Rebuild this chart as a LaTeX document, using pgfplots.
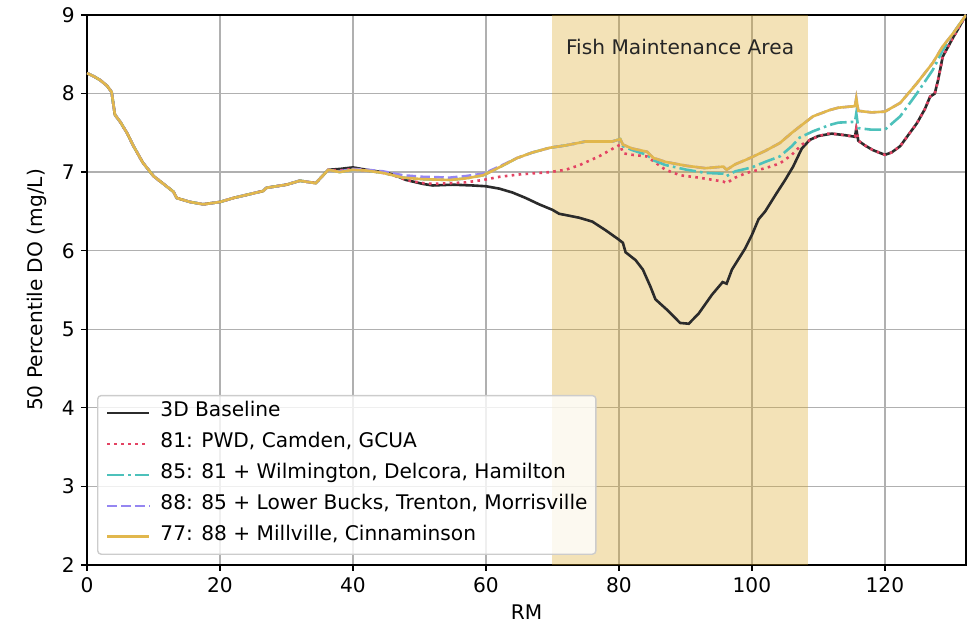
\documentclass[border=0pt]{standalone}
\usepackage{pgfplots}
\pgfplotsset{compat=1.18}
\usepackage{pgfplotstable}
\usepackage{fontspec}
\setmainfont{DejaVu Sans}

\definecolor{cBase}{HTML}{2B2B2B}
\definecolor{cRed}{HTML}{E34363}
\definecolor{cTeal}{HTML}{4DC1BB}
\definecolor{cPurple}{HTML}{9586F1}
\definecolor{cGold}{HTML}{E1B74D}
\definecolor{goldenrod}{RGB}{218,165,32}
\definecolor{gridgray}{HTML}{B0B0B0}
\definecolor{framegray}{HTML}{CCCCCC}

\newcommand{\lblfont}{\fontsize{11.6}{14}\selectfont}

% 3D Baseline
\pgfplotstableread{
x y
0 8.26
1 8.22
2 8.17
3 8.10
3.7 8.02
4.2 7.73
5 7.64
6 7.50
7 7.33
8.4 7.12
10 6.95
11.5 6.85
13 6.75
13.5 6.67
15.5 6.62
17.5 6.59
20 6.62
22 6.67
24.5 6.72
26.5 6.76
27 6.80
30 6.84
32 6.89
34.4 6.86
36.3 7.03
38 7.04
40 7.06
42 7.03
44.5 7.00
46 6.97
48 6.90
50.5 6.85
52 6.83
55 6.84
58 6.83
60 6.82
62 6.79
64 6.74
66 6.67
68 6.59
70 6.52
71 6.47
74 6.42
76 6.37
78 6.26
80 6.14
80.6 6.10
81 5.98
82.5 5.88
83.6 5.76
84.7 5.55
85.5 5.38
87.2 5.25
89.2 5.08
90.5 5.07
92 5.20
94 5.44
95.6 5.60
96.2 5.58
97 5.76
99 6.03
100 6.20
101 6.40
102 6.50
103.7 6.73
105 6.90
106.2 7.07
107.5 7.30
108.7 7.41
110 7.46
112 7.49
114 7.47
115.5 7.45
115.7 7.55
116 7.40
117 7.34
118.2 7.28
120 7.22
121 7.25
122.3 7.33
123.5 7.47
124.8 7.62
126 7.80
126.8 7.96
127.5 8.00
128 8.17
128.7 8.47
130.3 8.72
131 8.82
132.2 9.00
}\tblBase

% 81: PWD, Camden, GCUA
\pgfplotstableread{
x y
0 8.26
1 8.22
2 8.17
3 8.10
3.7 8.02
4.2 7.73
5 7.64
6 7.50
7 7.33
8.4 7.12
10 6.95
11.5 6.85
13 6.75
13.5 6.67
15.5 6.62
17.5 6.59
20 6.62
22 6.67
24.5 6.72
26.5 6.76
27 6.80
30 6.84
32 6.89
34.4 6.86
36.3 7.03
38 7.02
40 7.04
42 7.02
44.5 6.99
46 6.96
48 6.90
50.5 6.86
52 6.85
55 6.86
57 6.87
59.6 6.90
62 6.94
65 6.97
69.6 7.00
72 7.03
74.1 7.09
77 7.20
79.1 7.30
80.2 7.35
80.6 7.24
82 7.22
84.2 7.20
85.5 7.12
87 7.03
89.2 6.96
92 6.93
95.7 6.88
96.2 6.86
97.5 6.93
99.2 6.99
102 7.05
104.2 7.11
106 7.22
107.5 7.35
109.2 7.43
111.2 7.49
112 7.49
114 7.47
115.5 7.45
115.7 7.55
116 7.40
117 7.34
118.2 7.28
120 7.22
121 7.25
122.3 7.33
123.5 7.47
124.8 7.62
126 7.80
126.8 7.96
127.5 8.00
128 8.17
128.7 8.47
130.3 8.72
131 8.82
132.2 9.00
}\tblRed

% 85: 81 + Wilmington, Delcora, Hamilton
\pgfplotstableread{
x y
0 8.26
1 8.22
2 8.17
3 8.10
3.7 8.02
4.2 7.73
5 7.64
6 7.50
7 7.33
8.4 7.12
10 6.95
11.5 6.85
13 6.75
13.5 6.67
15.5 6.62
17.5 6.59
20 6.62
22 6.67
24.5 6.72
26.5 6.76
27 6.80
30 6.84
32 6.89
34.4 6.86
36.3 7.03
38 7.00
40 7.03
42 7.02
44.5 6.99
47.5 6.93
50.5 6.91
54.6 6.90
57 6.92
59.6 6.96
62 7.06
64.7 7.18
67 7.25
69.6 7.31
72 7.34
75 7.39
79 7.39
80.2 7.42
80.6 7.33
82 7.28
84.2 7.22
85.2 7.15
87 7.09
90.2 7.03
93 6.99
95.7 6.98
96.2 6.95
97.5 7.01
100 7.06
102 7.13
104.2 7.20
106 7.33
107.2 7.44
109.2 7.52
111.7 7.60
113 7.63
115.5 7.64
115.7 7.75
116 7.56
118 7.54
120 7.54
122.3 7.71
124.8 8.00
127.2 8.30
128.7 8.55
130.3 8.77
132.2 9.00
}\tblTeal

% 88: 85 + Lower Bucks, Trenton, Morrisville
\pgfplotstableread{
x y
0 8.26
1 8.22
2 8.17
3 8.10
3.7 8.02
4.2 7.73
5 7.64
6 7.50
7 7.33
8.4 7.12
10 6.95
11.5 6.85
13 6.75
13.5 6.67
15.5 6.62
17.5 6.59
20 6.62
22 6.67
24.5 6.72
26.5 6.76
27 6.80
30 6.84
32 6.89
34.4 6.86
36.3 7.03
38 7.01
40 7.04
42 7.03
44.5 7.01
47.5 6.96
50.5 6.94
54.6 6.93
57 6.95
59.6 6.98
62 7.07
64.7 7.18
67 7.25
69.6 7.31
72 7.34
75 7.39
79 7.39
80.2 7.42
80.6 7.35
82 7.30
84.2 7.26
85.2 7.18
87 7.13
90.2 7.08
93 7.05
95.7 7.07
96.2 7.03
97.5 7.10
99.2 7.16
102 7.27
104.2 7.37
106 7.50
107.2 7.58
109.2 7.71
111.7 7.79
113 7.82
115.5 7.84
115.7 7.94
116 7.78
118 7.76
120 7.77
122.3 7.88
124.8 8.13
127.2 8.39
128.7 8.60
130.3 8.77
132.2 9.00
}\tblPurple

% 77: 88 + Millville, Cinnaminson
\pgfplotstableread{
x y
0 8.26
1 8.22
2 8.17
3 8.10
3.7 8.02
4.2 7.73
5 7.64
6 7.50
7 7.33
8.4 7.12
10 6.95
11.5 6.85
13 6.75
13.5 6.67
15.5 6.62
17.5 6.59
20 6.62
22 6.67
24.5 6.72
26.5 6.76
27 6.80
30 6.84
32 6.89
34.4 6.86
36.3 7.03
38 7.00
40 7.03
42 7.02
44.5 6.99
47.5 6.93
50.5 6.91
54.6 6.90
57 6.92
59.6 6.96
62 7.06
64.7 7.18
67 7.25
69.6 7.31
72 7.34
75 7.39
79 7.39
80.2 7.42
80.6 7.35
82 7.30
84.2 7.26
85.2 7.18
87 7.13
90.2 7.08
93 7.05
95.7 7.07
96.2 7.03
97.5 7.10
99.2 7.16
102 7.27
104.2 7.37
106 7.50
107.2 7.58
109.2 7.71
111.7 7.79
113 7.82
115.5 7.84
115.7 7.94
116 7.78
118 7.76
120 7.77
122.3 7.88
124.8 8.13
127.2 8.39
128.7 8.60
130.3 8.77
132.2 9.00
}\tblGold

\begin{document}
\begin{tikzpicture}
\begin{axis}[
  scale only axis,
  width=505.9pt, height=316.5pt,
  xmin=0, xmax=132.2, ymin=2, ymax=9,
  xtick={0,20,...,120}, ytick={2,3,...,9},
  /pgf/number format/assume math mode=true,
  tick label style={font=\lblfont},
  label style={font=\lblfont},
  axis line style={line width=0.8pt, black},
  tick style={line width=0.8pt, black},
  tick align=outside, tick pos=left,
  major tick length=3.5pt,
  grid=major,
  major grid style={line width=0.8pt, gridgray},
  xlabel={RM},
  ylabel={50 Percentile DO (mg/L)},
  xlabel style={at={(axis description cs:0.5,-0.085)}, anchor=center},
  ylabel style={at={(axis description cs:-0.057,0.5)}, anchor=center},
  legend style={
    at={(axis description cs:0.0114,0.0182)}, anchor=south west,
    draw=framegray, line width=0.8pt, rounded corners=2pt,
    fill=white, fill opacity=0.8, text opacity=1,
    font=\lblfont,
    row sep=7.3pt, column sep=5.8pt,
    inner xsep=4.8pt, inner ysep=4.8pt,
    nodes={inner sep=0pt, text height=7.5pt, text depth=3pt}
  },
  legend cell align=left,
  legend image code/.code={\draw[#1, line width=1.5pt] (0pt,0pt) -- (24pt,0pt);},
]
% fish maintenance reach, RM 70 to 108.4
\addplot[draw=none, fill=goldenrod, fill opacity=0.32, forget plot]
  coordinates {(70,2) (70,9) (108.4,9) (108.4,2)} -- cycle;

\addplot[cBase, line width=1.5pt] table[x=x,y=y]{\tblBase};
\addlegendentry{3D Baseline}
\addplot[cRed, line width=1.5pt, dash pattern=on 1.5pt off 2.5pt] table[x=x,y=y]{\tblRed};
\addlegendentry{81: PWD, Camden, GCUA}
\addplot[cTeal, line width=1.5pt, dash pattern=on 9.6pt off 2.4pt on 1.5pt off 2.4pt] table[x=x,y=y]{\tblTeal};
\addlegendentry{85: 81 + Wilmington, Delcora, Hamilton}
\addplot[cPurple, line width=1.5pt, dash pattern=on 5.55pt off 2.4pt] table[x=x,y=y]{\tblPurple};
\addlegendentry{88: 85 + Lower Bucks, Trenton, Morrisville}
\addplot[cGold, line width=1.5pt] table[x=x,y=y]{\tblGold};
\addlegendentry{77: 88 + Millville, Cinnaminson}

\node[font=\lblfont, text=black!85] at (axis cs:89.2,8.59) {Fish Maintenance Area};
\end{axis}
\pgfresetboundingbox
\path[use as bounding box]
  ([xshift=-50.07pt,yshift=-35.7pt]current axis.south west)
  rectangle ([xshift=4.03pt,yshift=8.63pt]current axis.north east);
\end{tikzpicture}
\end{document}
